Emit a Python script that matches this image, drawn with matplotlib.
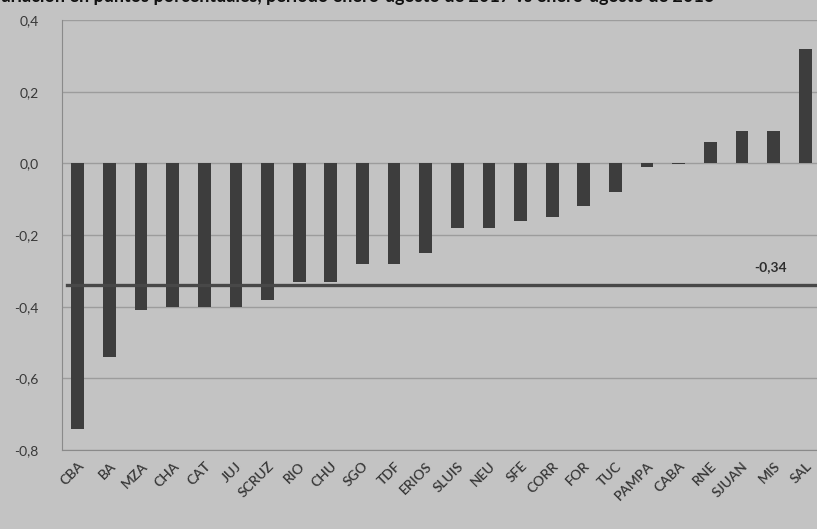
import matplotlib
matplotlib.use("Agg")
import matplotlib.pyplot as plt
from matplotlib.ticker import FuncFormatter

# Provinces and their change (percentage points)
provincias = ["CBA", "BA", "MZA", "CHA", "CAT", "JUJ", "SCRUZ", "RIO", "CHU", "SGO",
              "TDF", "ERIOS", "SLUIS", "NEU", "SFE", "CORR", "FOR", "TUC", "PAMPA",
              "CABA", "RNE", "SJUAN", "MIS", "SAL"]
variacion = [-0.74, -0.54, -0.41, -0.40, -0.40, -0.40, -0.38, -0.33, -0.33, -0.28,
             -0.28, -0.25, -0.18, -0.18, -0.16, -0.15, -0.12, -0.08, -0.01,
             -0.003, 0.06, 0.09, 0.09, 0.32]
promedio = -0.34
titulo = "Variación en puntos porcentuales, período enero-agosto de 2017 vs enero-agosto de 2016"
yticks = [0.4, 0.2, 0.0, -0.2, -0.4, -0.6, -0.8]

BG = "#c3c3c3"
BAR = "#3d3d3d"
GRID = "#9c9c9c"
TXT = "#383838"

plt.rcParams["font.family"] = ["Lato", "DejaVu Sans"]

fig = plt.figure(figsize=(8.17, 5.29), dpi=100, facecolor=BG)
ax = fig.add_axes([62 / 817, 1 - 450 / 529, (821 - 62) / 817, (450 - 20) / 529])
ax.set_facecolor(BG)

x = list(range(len(provincias)))
ax.bar(x, variacion, width=0.4, color=BAR, zorder=3)

# national average line with its label
ax.plot([-0.35, 23.4], [promedio, promedio], color="#484848", lw=2.4, zorder=4)
ax.text(21.9, promedio + 0.035, f"{promedio:.2f}".replace(".", ","),
        ha="center", va="bottom", fontsize=10, fontweight="bold", color="#2e2e2e", zorder=5)

ax.set_xlim(-0.5, 23.5)
ax.set_ylim(-0.8, 0.4)
ax.set_yticks(yticks)
ax.yaxis.set_major_formatter(FuncFormatter(lambda v, p: f"{v:.1f}".replace(".", ",").replace("-0,0", "0,0")))
ax.grid(axis="y", color=GRID, lw=1.0, zorder=0)
ax.set_axisbelow(True)

ax.set_xticks(x)
ax.set_xticklabels(provincias, rotation=45, ha="right", rotation_mode="anchor",
                   fontsize=10, color=TXT, fontweight="semibold")
ax.tick_params(axis="x", length=0, pad=7)
ax.tick_params(axis="y", length=0, pad=17, labelsize=10, labelcolor=TXT)

for s in ["top", "right"]:
    ax.spines[s].set_visible(False)
ax.spines["left"].set_color("#8a8a8a")
ax.spines["bottom"].set_color("#8a8a8a")

fig.text(0.43, 1 - 2 / 529, titulo, ha="center", va="baseline",
         fontsize=13, fontweight="bold", color="#111111")

fig.savefig("out.png", dpi=100, facecolor=BG)
